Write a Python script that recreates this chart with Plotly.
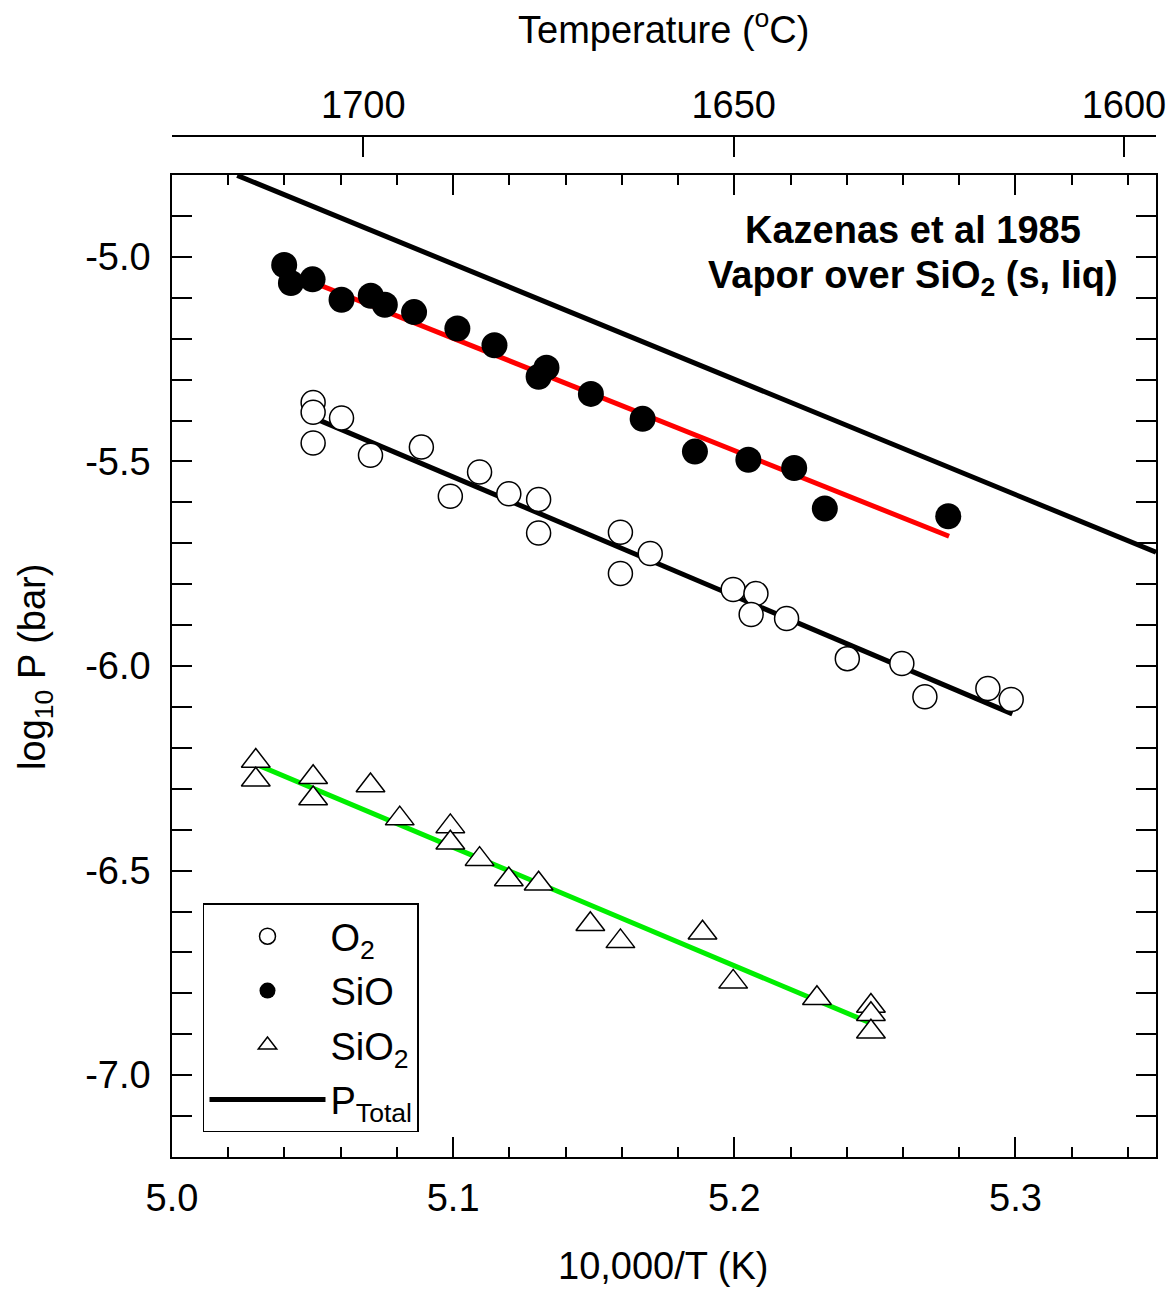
import plotly.graph_objects as go

# ---------------- data (x = 10,000/T(K), y = log10 P (bar)) ----------------
sio_x = [5.0399, 5.0423, 5.0500, 5.0603, 5.0707, 5.0757, 5.0861, 5.1015, 5.1147,
         5.1332, 5.1304, 5.1490, 5.1674, 5.1860, 5.2050, 5.2213, 5.2322, 5.2761]
sio_y = [-5.020, -5.064, -5.055, -5.105, -5.095, -5.117, -5.135, -5.175, -5.216,
         -5.271, -5.293, -5.335, -5.396, -5.476, -5.496, -5.516, -5.615, -5.634]

o2_x = [5.0502, 5.0502, 5.0502, 5.0603, 5.0706, 5.0887, 5.0990, 5.1094, 5.1198,
        5.1304, 5.1304, 5.1595, 5.1595, 5.1701, 5.1996, 5.2077, 5.2060, 5.2186,
        5.2402, 5.2596, 5.2678, 5.2902, 5.2985]
o2_y = [-5.356, -5.380, -5.455, -5.394, -5.485, -5.465, -5.585, -5.526, -5.579,
        -5.593, -5.675, -5.673, -5.774, -5.725, -5.813, -5.823, -5.874, -5.884,
        -5.982, -5.994, -6.075, -6.055, -6.082]

sio2_x = [5.0298, 5.0298, 5.0502, 5.0502, 5.0706, 5.0810, 5.0990, 5.0990, 5.1094,
          5.1198, 5.1304, 5.1488, 5.1595, 5.1887, 5.1996, 5.2294, 5.2486, 5.2486,
          5.2486]
sio2_y = [-6.232, -6.278, -6.272, -6.324, -6.292, -6.373, -6.392, -6.432, -6.472,
          -6.522, -6.532, -6.631, -6.673, -6.652, -6.772, -6.812, -6.831, -6.851,
          -6.894]

# fitted lines (end points)
sio_fit_x = [5.0398, 5.2764]
sio_fit_y = [-5.034, -5.683]
o2_fit_x = [5.0502, 5.2989]
o2_fit_y = [-5.393, -6.117]
sio2_fit_x = [5.0298, 5.2486]
sio2_fit_y = [-6.240, -6.873]
ptot_x = [5.0232, 5.3500]
ptot_y = [-4.801, -5.722]

# axes ticks
x_ticks = [5.0, 5.1, 5.2, 5.3]
x_tick_text = ["5.0", "5.1", "5.2", "5.3"]
y_ticks = [-7.0, -6.5, -6.0, -5.5, -5.0]
y_tick_text = ["-7.0", "-6.5", "-6.0", "-5.5", "-5.0"]
temp_ticks_c = [1700, 1650, 1600]
temp_tick_text = ["1700", "1650", "1600"]

FONT = "Liberation Sans, Arial, Helvetica, sans-serif"
FS = 38

fig = go.Figure()

# lines
fig.add_trace(go.Scatter(x=sio_fit_x, y=sio_fit_y, mode="lines",
                         line=dict(color="#ff0000", width=5), showlegend=False,
                         hoverinfo="skip"))
fig.add_trace(go.Scatter(x=o2_fit_x, y=o2_fit_y, mode="lines",
                         line=dict(color="black", width=5), showlegend=False,
                         hoverinfo="skip"))
fig.add_trace(go.Scatter(x=sio2_fit_x, y=sio2_fit_y, mode="lines",
                         line=dict(color="#00ee00", width=5), showlegend=False,
                         hoverinfo="skip"))
fig.add_trace(go.Scatter(x=ptot_x, y=ptot_y, mode="lines", name="P<sub>Total</sub>",
                         line=dict(color="black", width=5), legendrank=4,
                         legendgroup="d"))

# markers
fig.add_trace(go.Scatter(x=o2_x, y=o2_y, mode="markers", name="O<sub>2</sub>",
                         marker=dict(symbol="circle", size=24, color="white",
                                     line=dict(color="black", width=1.5)),
                         legendrank=1, legendgroup="a"))
fig.add_trace(go.Scatter(x=sio_x, y=sio_y, mode="markers", name="SiO",
                         marker=dict(symbol="circle", size=26, color="black",
                                     line=dict(width=0)),
                         legendrank=2, legendgroup="b"))
fig.add_trace(go.Scatter(x=sio2_x, y=sio2_y, mode="markers", name="SiO<sub>2</sub>",
                         marker=dict(symbol="triangle-up", size=25, color="white",
                                     line=dict(color="black", width=1.5)),
                         legendrank=3, legendgroup="c"))

# temperature (top) axis carrier: the total-pressure line, invisible, on x2
temp_tick_pos = [10000.0 / (t + 273.15) for t in temp_ticks_c]
fig.add_trace(go.Scatter(x=ptot_x, y=ptot_y, xaxis="x2", mode="lines",
                         line=dict(width=0, color="rgba(0,0,0,0)"),
                         showlegend=False, hoverinfo="skip"))

axis_common = dict(showgrid=False, zeroline=False, showline=True, linecolor="black",
                   linewidth=1.5, ticks="inside", ticklen=20, tickwidth=1.5,
                   tickcolor="black", mirror="allticks", automargin=False,
                   tickfont=dict(family=FONT, size=FS, color="black"))

fig.update_layout(
    width=1173, height=1289,
    margin=dict(l=172, r=17, t=136, b=132, autoexpand=False),
    paper_bgcolor="white", plot_bgcolor="white",
    font=dict(family=FONT, size=FS, color="black"),
    xaxis=dict(range=[5.0, 5.35], tickmode="array", tickvals=x_ticks,
               ticktext=x_tick_text, ticklabelstandoff=7,
               minor=dict(tickmode="linear", tick0=5.0, dtick=0.02, ticklen=10,
                          tickwidth=1.5, tickcolor="black", ticks="inside"),
               **axis_common),
    yaxis=dict(range=[-7.2, -4.8], domain=[0, 0.9618], tickmode="array",
               tickvals=y_ticks, ticktext=y_tick_text, ticklabelstandoff=12,
               minor=dict(tickmode="linear", tick0=-7.2, dtick=0.1, ticklen=10,
                          tickwidth=1.5, tickcolor="black", ticks="inside"),
               **axis_common),
    xaxis2=dict(overlaying="x", side="top", anchor="free", position=1,
                range=[5.0, 5.35], tickmode="array", tickvals=temp_tick_pos,
                ticktext=temp_tick_text, showgrid=False, zeroline=False,
                showline=True, linecolor="black", linewidth=1.5, ticks="inside",
                ticklen=20, tickwidth=1.5, tickcolor="black", ticklabelstandoff=2,
                automargin=False,
                tickfont=dict(family=FONT, size=FS, color="black")),
    legend=dict(x=0.0315, y=0.024, xanchor="left", yanchor="bottom",
                bgcolor="white", bordercolor="black", borderwidth=1.5,
                font=dict(family=FONT, size=FS, color="black"),
                traceorder="grouped", tracegroupgap=2, itemwidth=116),
    showlegend=True,
)

ann_font = dict(family=FONT, size=FS, color="black")
fig.add_annotation(text="Temperature (<sup>o</sup>C)", xref="paper", yref="paper",
                   x=0.499, y=1.1067, xanchor="center", yanchor="middle",
                   showarrow=False, font=ann_font)
fig.add_annotation(text="10,000/T (K)", xref="paper", yref="paper",
                   x=0.499, y=-0.1068, xanchor="center", yanchor="middle",
                   showarrow=False, font=ann_font)
fig.add_annotation(text="log<sub>10</sub> P (bar)", xref="paper", yref="paper",
                   x=-0.1392, y=0.48, xanchor="center", yanchor="middle",
                   textangle=-90, showarrow=False, font=ann_font)
fig.add_annotation(text="<b>Kazenas et al 1985</b>", xref="paper", yref="paper",
                   x=0.753, y=0.9079, xanchor="center", yanchor="middle",
                   showarrow=False, font=ann_font)
fig.add_annotation(text="<b>Vapor over SiO<sub>2</sub> (s, liq)</b>", xref="paper",
                   yref="paper", x=0.753, y=0.861, xanchor="center",
                   yanchor="middle", showarrow=False, font=ann_font)

fig.write_html("out.html")
